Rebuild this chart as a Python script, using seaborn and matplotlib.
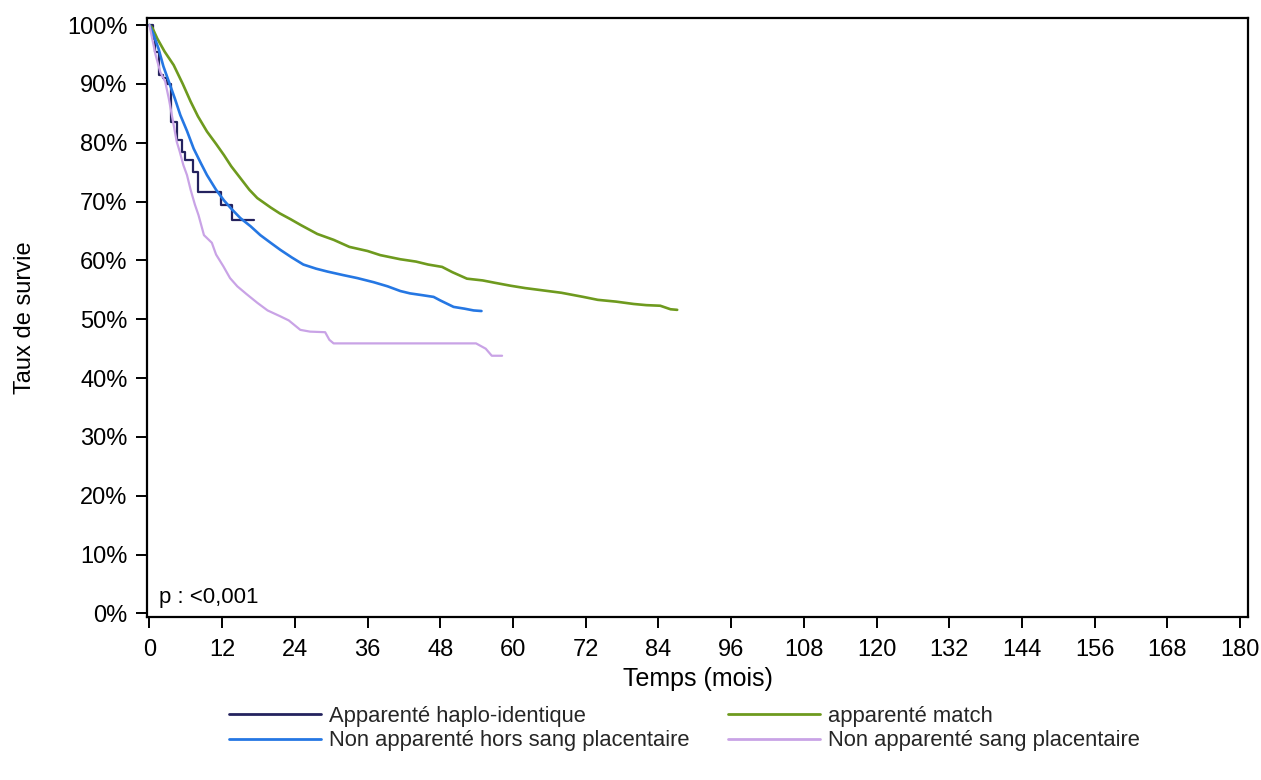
import matplotlib
matplotlib.use("Agg")
import matplotlib.pyplot as plt
from matplotlib.lines import Line2D
from matplotlib.ticker import FuncFormatter
import pandas as pd
import seaborn as sns

# Kaplan-Meier survival (%) by donor type, time in months
groupes = [
    "Apparenté haplo-identique",
    "apparenté match",
    "Non apparenté hors sang placentaire",
    "Non apparenté sang placentaire",
]
couleurs = ["#24225e", "#6e9a1e", "#2577e3", "#c9a3e6"]

t_haplo = [0, 0.6, 1.0, 1.5, 2.3, 2.9, 3.6, 4.6, 5.3, 5.9, 7.2, 8.0, 11.8, 13.6, 17.2]
s_haplo = [100, 97.6, 95.5, 91.5, 91.0, 90.0, 83.6, 80.5, 78.5, 77.1, 75.1, 71.7, 69.4, 66.9, 66.9]

t_match = [0, 0.5, 1.3, 2.5, 4, 5.5, 6.8, 8, 9.5, 11, 12.3, 13.5, 15, 16.5, 17.8,
           20, 21.5, 23.3, 25, 27.7, 30.4, 33, 36, 38.1, 41.4, 44, 46, 48.3, 50,
           52.4, 55, 57, 59.6, 62, 65, 68, 71.6, 74, 77, 79.9, 82, 84.3, 86, 87.1]
s_match = [100, 99.5, 97.7, 95.5, 93.2, 90, 87, 84.5, 81.9, 79.8, 77.9, 76, 74, 72, 70.6,
           69, 68, 67, 66, 64.5, 63.5, 62.3, 61.6, 60.9, 60.2, 59.8, 59.3, 58.9, 58,
           56.9, 56.6, 56.2, 55.7, 55.3, 54.9, 54.5, 53.8, 53.3, 53.0, 52.6, 52.4, 52.3, 51.7, 51.6]

t_hors = [0, 0.7, 1.5, 2.3, 3.2, 4.2, 5.1, 6.2, 7.3, 8.5, 9.5, 11, 12.3, 13.5, 15,
          16.7, 18.3, 20, 21.6, 23.5, 25.4, 27.5, 29.4, 32, 34.3, 37, 39.3, 41.4,
          43, 45, 46.9, 48, 50.2, 52, 53.5, 54.8]
s_hors = [100, 98.3, 96, 93, 90.4, 87.5, 84.7, 82, 79, 76.5, 74.5, 72, 70.2, 68.8, 67.2,
          65.8, 64.3, 63, 61.8, 60.5, 59.3, 58.6, 58.1, 57.5, 57.0, 56.3, 55.6, 54.8,
          54.4, 54.1, 53.8, 53.2, 52.1, 51.8, 51.5, 51.4]

t_placenta = [0, 0.5, 1, 1.8, 2.6, 3.2, 3.7, 4.5, 5.0, 5.6, 6.2, 6.8, 7.5, 8.1, 9,
              10.3, 11, 12.2, 13.3, 14.5, 16, 17.8, 19.5, 21.6, 23, 24.9, 26.5, 29,
              29.7, 30.4, 53.9, 55.5, 56.5, 58.2]
s_placenta = [100, 97.5, 95, 92, 90.4, 87.5, 84.7, 80.2, 78.5, 76.2, 74.5, 72, 69.5, 67.7, 64.3,
              63, 61, 59, 57, 55.6, 54.3, 52.8, 51.5, 50.5, 49.8, 48.2, 47.9, 47.8,
              46.5, 45.9, 45.9, 45.0, 43.8, 43.8]

x_ticks = list(range(0, 181, 12))
y_ticks = list(range(0, 101, 10))
p_texte = "p : <0,001"

series = [(t_haplo, s_haplo), (t_match, s_match), (t_hors, s_hors), (t_placenta, s_placenta)]
frames = []
for nom, (t, s) in zip(groupes, series):
    frames.append(pd.DataFrame({"temps": t, "survie": s, "groupe": nom}))
df = pd.concat(frames, ignore_index=True)

sns.set_theme(style="white")
plt.rcParams["font.family"] = ["Liberation Sans", "DejaVu Sans"]

fig = plt.figure(figsize=(12.61, 7.80), dpi=100)
ax = fig.add_axes([147 / 1261, 1 - 617 / 780, (1248 - 147) / 1261, (617 - 18) / 780])

palette = dict(zip(groupes, couleurs))
largeurs = {groupes[0]: 1.6, groupes[1]: 1.9, groupes[2]: 1.9, groupes[3]: 1.6}
for nom in groupes:
    sub = df[df["groupe"] == nom]
    sns.lineplot(
        data=sub, x="temps", y="survie", ax=ax, color=palette[nom],
        estimator=None, sort=False, lw=largeurs[nom], legend=False,
        drawstyle="steps-post" if nom == groupes[0] else "default",
    )

ax.set_xlim(-0.4, 181.3)
ax.set_ylim(-0.6, 101.2)
ax.set_xticks(x_ticks)
ax.set_yticks(y_ticks)
ax.yaxis.set_major_formatter(FuncFormatter(lambda v, _: f"{v:.0f}%"))
ax.tick_params(axis="both", direction="out", length=8, width=1.4, color="black",
               labelsize=17, labelcolor="black", bottom=True, left=True)
ax.tick_params(axis="y", pad=6)
ax.tick_params(axis="x", pad=8)
for sp in ax.spines.values():
    sp.set_visible(True)
    sp.set_color("black")
    sp.set_linewidth(1.6)
ax.grid(False)

ax.set_xlabel("Temps (mois)", fontsize=18, color="black")
ax.set_ylabel("Taux de survie", fontsize=17, color="black")
ax.xaxis.set_label_coords(0.5, -0.083)
ax.yaxis.set_label_coords(-0.101, 0.5)

ax.text(0.011, 0.032, p_texte, transform=ax.transAxes, fontsize=16, color="black",
        ha="left", va="center")

handles = [Line2D([0], [0], color=c, lw=2) for c in couleurs]
order = [0, 2, 1, 3]
fig.legend(
    [handles[i] for i in order], [groupes[i] for i in order],
    loc="upper left", bbox_to_anchor=(218 / 1261, 1 - 695 / 780),
    ncol=2, frameon=False, fontsize=15.8, handlelength=4.2, handletextpad=0.35,
    columnspacing=1.75, borderpad=0, labelspacing=0.15,
)

fig.savefig("out.png", dpi=100)
